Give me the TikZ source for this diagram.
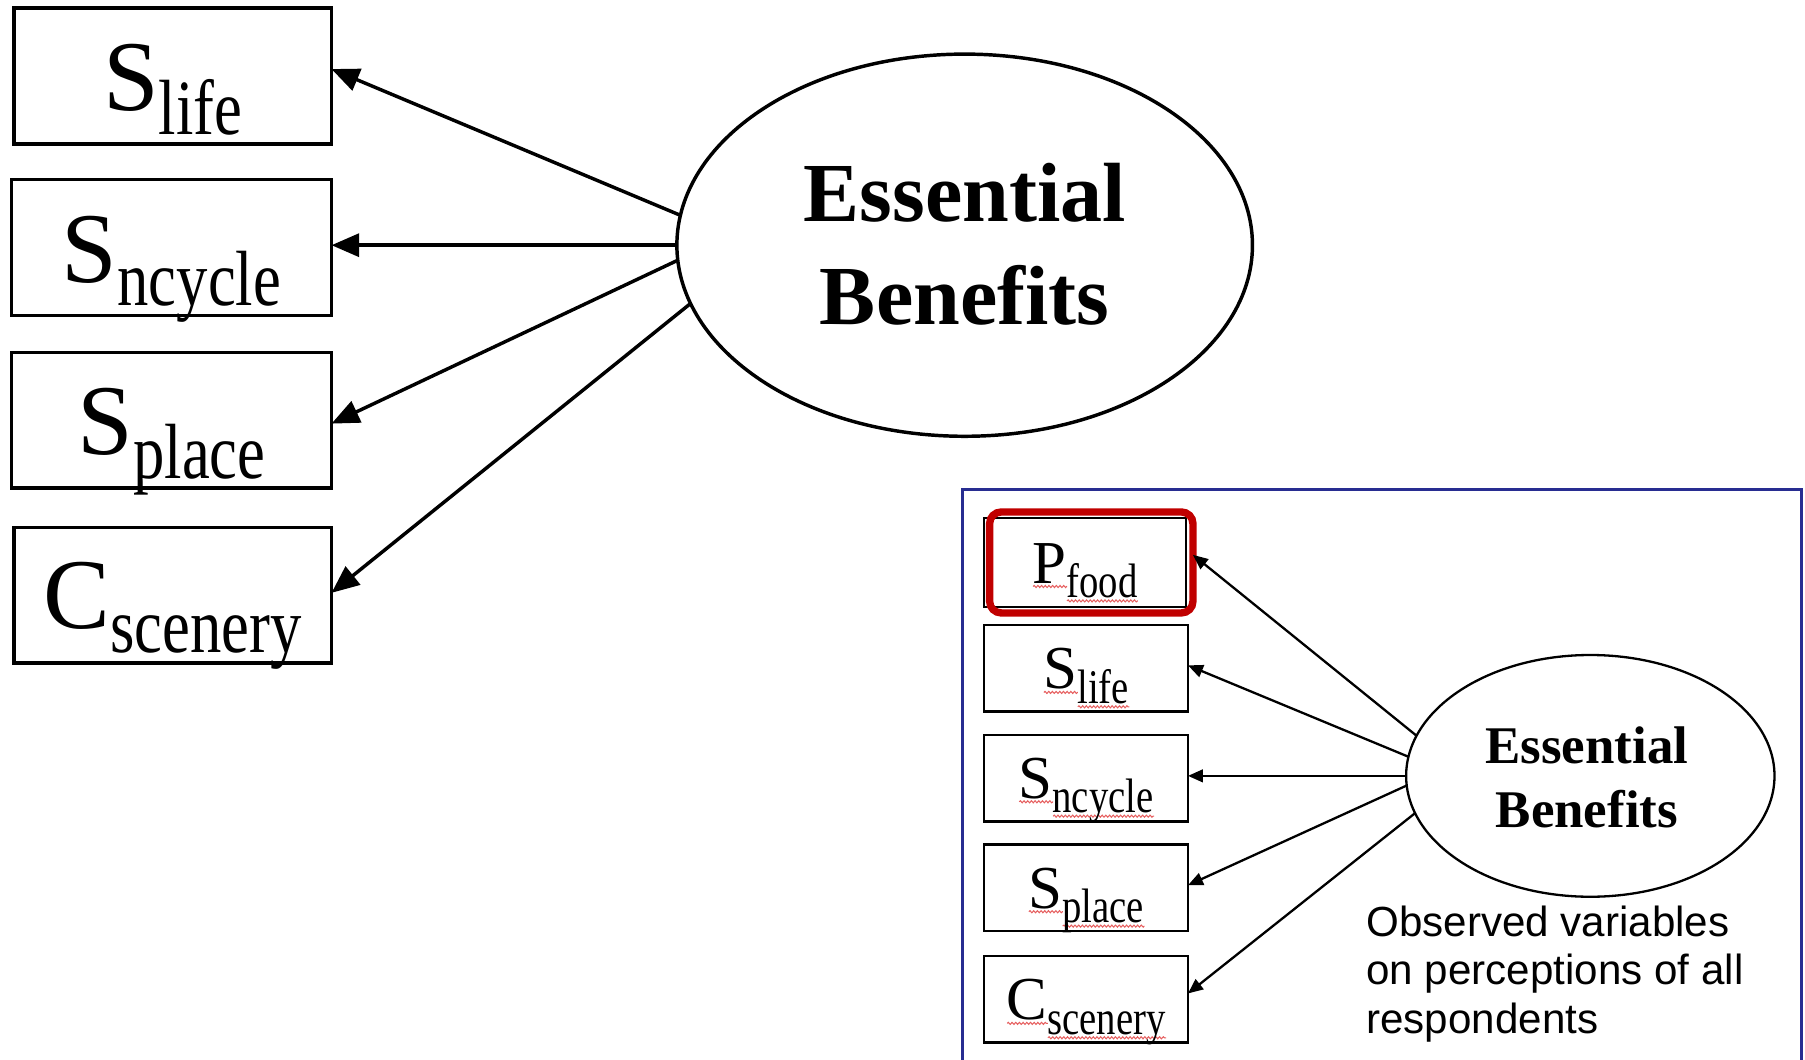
\documentclass[tikz,border=0pt]{standalone}
\usepackage{fontspec}
\setmainfont{Liberation Serif}
\newfontfamily\subfam{Liberation Serif}[FakeStretch=0.8]
\newfontfamily\obsfam{Liberation Sans}
\usetikzlibrary{arrows.meta,shapes.geometric,decorations.pathmorphing}

\definecolor{framec}{RGB}{40,45,145}
\definecolor{hilite}{RGB}{192,0,0}
\definecolor{wavec}{RGB}{230,95,95}

\newsavebox\wvbox
\newlength\wvlen
\newcommand\wv[1]{\sbox\wvbox{#1}\setlength\wvlen{\wd\wvbox}\rlap{\tikz[baseline=0pt]\draw[wavec,line width=0.9pt,decorate,decoration={snake,amplitude=0.9pt,segment length=3.2pt}] (0pt,-3pt) -- (\wvlen,-3pt);}\usebox\wvbox}
\newcommand\mainlab[2]{\fontsize{87}{87}\selectfont #1\raisebox{-20.6pt}{\subfam\fontsize{68}{68}\selectfont #2}}
\newcommand\insetlab[2]{\fontsize{53}{53}\selectfont\wv{#1}\raisebox{-12.5pt}{\subfam\fontsize{42}{42}\selectfont\wv{#2}}}

\tikzset{
  mbox/.style={draw, line width=3pt, minimum width=276pt, minimum height=118pt, inner sep=0pt, outer sep=0pt},
  ibox/.style={draw, line width=2pt, minimum width=177pt, minimum height=75pt, inner sep=0pt, outer sep=0pt},
  lab/.style={inner sep=0pt, outer sep=0pt, anchor=base},
  mell/.style={ellipse, draw, line width=3pt, minimum width=500pt, minimum height=332pt, inner sep=0pt, outer sep=0pt},
  iell/.style={ellipse, draw, line width=2pt, minimum width=320pt, minimum height=210pt, inner sep=0pt, outer sep=0pt},
  mtext/.style={lab, font={\bfseries\fontsize{73}{73}\selectfont}},
  itext/.style={lab, font={\bfseries\fontsize{46}{46}\selectfont}},
  marrow/.style={line width=3pt, -{Triangle[length=24pt,width=20pt]}},
  iarrow/.style={line width=2pt, -{Triangle[length=13pt,width=11pt]}},
  redframe/.style={draw=hilite, line width=6.4pt, rounded corners=10pt, inner sep=0pt, outer sep=0pt}
}

\begin{document}
\begin{tikzpicture}[x=1pt, y=-1pt]
\useasboundingbox (0,0) rectangle (1568,920);

% ---- main diagram ----
\node[mbox] (mlife) at (150,66) {};
\node[mbox, minimum width=278pt] (mncycle) at (149,215) {};
\node[mbox, minimum width=278pt] (mplace) at (149,365) {};
\node[mbox] (mscen) at (150,517) {};

\node[lab] (mlifet) at ([yshift=-30pt]mlife.center) {\mainlab{S}{life}};
\node[lab] (mncyclet) at ([yshift=-30pt]mncycle.center) {\mainlab{S}{ncycle}};
\node[lab] (mplacet) at ([yshift=-30pt]mplace.center) {\mainlab{S}{place}};
\node[lab] (mscent) at ([yshift=-29pt]mscen.center) {\mainlab{C}{scenery}};

\node[mell] (mell) at (838,213) {};
\node[mtext] (mell1) at ([yshift=20.4pt]mell.center) {Essential};
\node[mtext] (mell2) at ([yshift=-69.3pt]mell.center) {Benefits};

\draw[marrow] (mell.174.3) -- ([yshift=6pt]mlife.east);
\draw[marrow] (mell.180) -- ([yshift=2pt]mncycle.east);
\draw[marrow] (mell.183) -- ([yshift=-3pt]mplace.east);
\draw[marrow] (mell.192) -- ([yshift=2pt]mscen.east);

% ---- inset ----
\draw[framec, line width=2.5pt] (836,930) -- (836,425) -- (1565,425) -- (1565,930);

\node[ibox, minimum width=175pt, minimum height=77pt] (iP) at (942.5,488.5) {};
\node[redframe, minimum width=176.6pt, minimum height=87.7pt] (iPred) at (948,488.6) {};
\node[ibox] (ilife) at (943.5,580.5) {};
\node[ibox] (incyc) at (943.5,676) {};
\node[ibox] (iplace) at (943.5,771) {};
\node[ibox] (iscen) at (943.5,868) {};

\node[lab] (iPt) at ([yshift=-18pt]iP.center) {\insetlab{P}{food}};
\node[lab] (ilifet) at ([yshift=-18pt]ilife.center) {\insetlab{S}{life}};
\node[lab] (incyct) at ([yshift=-17.5pt]incyc.center) {\insetlab{S}{ncycle}};
\node[lab] (iplacet) at ([yshift=-18pt]iplace.center) {\insetlab{S}{place}};
\node[lab] (iscent) at ([yshift=-18pt]iscen.center) {\insetlab{C}{scenery}};

\node[iell] (iell) at (1381.5,674) {};
\node[itext] (iell1) at ([xshift=-3pt,yshift=10.7pt]iell.center) {Essential};
\node[itext] (iell2) at ([xshift=-3pt,yshift=-44.5pt]iell.center) {Benefits};

\draw[iarrow] (iell.167.2) -- ([yshift=6.6pt]iPred.east);
\draw[iarrow] (iell.174.6) -- ([yshift=2.5pt]ilife.east);
\draw[iarrow] (iell.180) -- ([yshift=2pt]incyc.east);
\draw[iarrow] (iell.183) -- ([yshift=2pt]iplace.east);
\draw[iarrow] (iell.192.4) -- ([yshift=5pt]iscen.east);

\node[anchor=base west, align=left, inner sep=0pt, outer sep=0pt,
      font={\obsfam\fontsize{36.6}{42}\selectfont}] (obs) at (1187,897.6)
      {Observed variables\\on perceptions of all\\respondents};
\end{tikzpicture}
\end{document}
